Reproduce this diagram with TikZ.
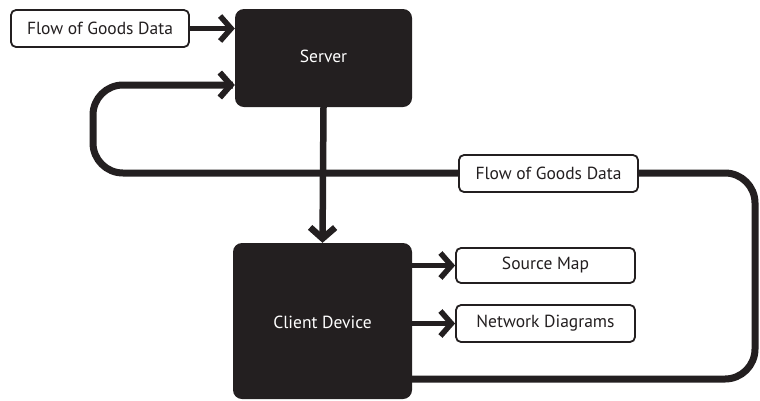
\documentclass[tikz,border=0pt]{standalone}
\usepackage{fontspec}
\setmainfont{PT Sans}
\usetikzlibrary{arrows.meta}
\definecolor{ink}{HTML}{231F20}
\begin{document}
\begin{tikzpicture}[x=1pt,y=-1pt,
  darkbox/.style={draw=none,fill=ink,rounded corners=9pt,text=white,
    font=\fontsize{17.5}{20}\selectfont,inner sep=0pt},
  labelbox/.style={draw=ink,line width=1.8pt,fill=white,rounded corners=5pt,
    text=ink,font=\fontsize{17.5}{20}\selectfont,inner sep=0pt},
  chev/.style={-{Straight Barb[length=11pt,width=25pt]}},
  link/.style={ink,line width=5.5pt,chev},
  loopline/.style={ink,line width=7pt,rounded corners=30pt}]
\useasboundingbox (0,0) rectangle (760,400);
\begin{scope}
\clip (0,0) rectangle (760,400);
% main boxes
\node[darkbox,minimum width=177pt,minimum height=98pt] (server) at (323.5,58) {};
\node[text=white,font=\fontsize{17.5}{20}\selectfont] (serverlbl) at (323.5,56) {Server};
\node[darkbox,minimum width=179pt,minimum height=156pt] (client) at (322.5,321) {};
\node[text=white,font=\fontsize{17.5}{20}\selectfont] (clientlbl) at (322.5,322) {Client Device};
\end{scope}
% label boxes
\node[labelbox,minimum width=178pt,minimum height=37pt] (inflow) at (100,28.5) {Flow of Goods Data};
\node[labelbox,minimum width=179pt,minimum height=35pt] (map) at (545.5,265.5) {Source Map};
\node[labelbox,minimum width=179pt,minimum height=37pt] (net) at (545.5,323.5) {Network Diagrams};
% feedback loop from client back to server
\coordinate (lr) at (755,379);
\coordinate (ur) at (755,173);
\coordinate (ul) at (93,173);
\coordinate (tl) at (93,85);
\draw[loopline] (client.east |- lr) -- (lr) -- (ur) -- (ul) -- (tl)
  -- ([xshift=-2pt]server.west |- tl);
\draw[ink,line width=6pt,chev] ([xshift=-30pt]server.west |- tl) -- (server.west |- tl);
% connectors
\draw[link] (inflow.east) -- (server.west |- inflow.east);
\draw[link,line width=6.5pt] (server.south) -- (client.north);
\draw[link] (client.east |- map.west) -- (map.west);
\draw[link] (client.east |- net.west) -- (net.west);
% label on the loop
\node[labelbox,minimum width=179pt,minimum height=37pt] (loopflow) at (548.5,173.5) {Flow of Goods Data};
\end{tikzpicture}
\end{document}
